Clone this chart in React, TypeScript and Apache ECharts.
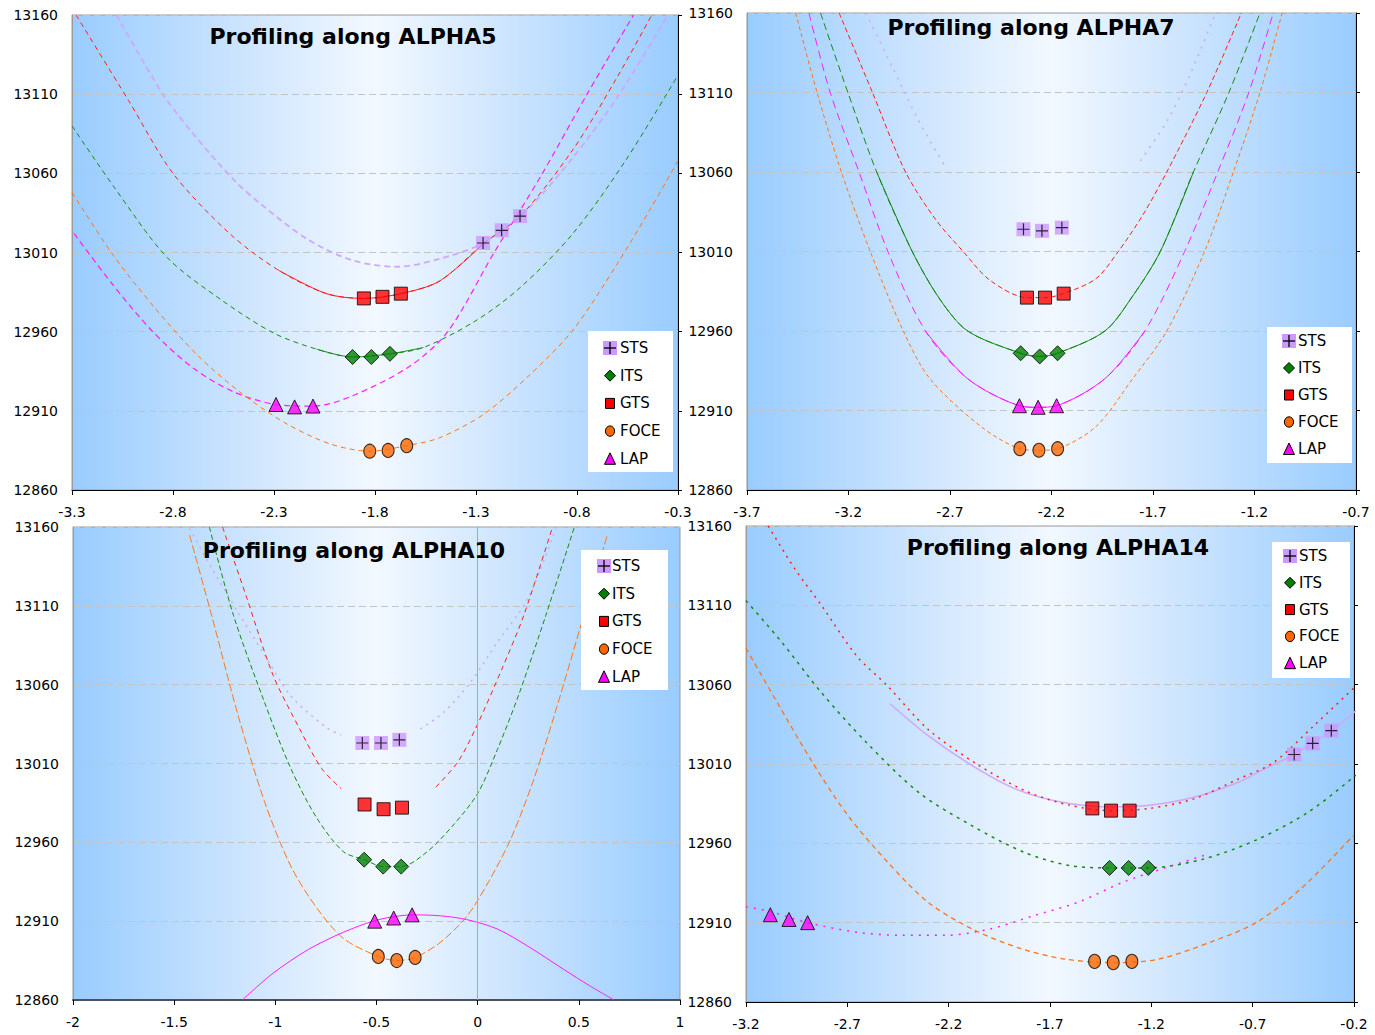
import React, { useEffect, useRef } from "react";
import * as echarts from "echarts";

// ---------- axes ----------
const Y_MIN = 12860;
const Y_MAX = 13160;
const Y_STEP = 50;
const X_STEP = 0.5;
const X_RANGE_A5 = [-3.3, -0.3];
const X_RANGE_A7 = [-3.7, -0.7];
const X_RANGE_A10 = [-2, 1];
const X_RANGE_A14 = [-3.2, -0.2];

const METHODS = ["STS", "ITS", "GTS", "FOCE", "LAP"];
const TITLES = [
  "Profiling along ALPHA5",
  "Profiling along ALPHA7",
  "Profiling along ALPHA10",
  "Profiling along ALPHA14",
];

// ---------- ALPHA5 ----------
const a5StsPts = [[-1.265, 13016], [-1.173, 13024], [-1.082, 13033]];
const a5ItsPts = [[-1.911, 12944], [-1.818, 12944], [-1.726, 12946]];
const a5GtsPts = [[-1.855, 12981], [-1.763, 12982], [-1.672, 12984]];
const a5FocePts = [[-1.826, 12884.5], [-1.735, 12885], [-1.643, 12888]];
const a5LapPts = [[-2.29, 12914], [-2.198, 12912.5], [-2.107, 12913]];

const a5StsCurve = [[-3.08, 13160], [-2.85, 13110], [-2.7, 13085], [-2.5, 13056], [-2.35, 13039], [-2.13, 13018], [-1.91, 13005], [-1.69, 13001], [-1.48, 13006], [-1.265, 13016], [-1.04, 13038], [-0.82, 13070], [-0.6, 13108], [-0.35, 13160]];
const a5GtsCurve = [[-3.28, 13160], [-3.02, 13106], [-2.8, 13060], [-2.52, 13022], [-2.28, 12999], [-2.04, 12984], [-1.855, 12981], [-1.672, 12984], [-1.48, 12992], [-1.26, 13016], [-1.08, 13033], [-0.82, 13075], [-0.6, 13121], [-0.43, 13160]];
const a5ItsCurve = [[-3.3, 13090], [-3.09, 13051], [-2.83, 13007], [-2.56, 12980], [-2.3, 12959], [-2.09, 12949], [-1.911, 12944], [-1.726, 12946], [-1.56, 12950], [-1.3, 12967], [-1.08, 12988], [-0.82, 13022], [-0.56, 13068], [-0.3, 13122]];
const a5LapCurve = [[-3.29, 13022], [-3.1, 12990], [-2.9, 12960], [-2.7, 12937], [-2.5, 12922], [-2.29, 12914], [-2.107, 12913], [-1.92, 12919], [-1.63, 12938], [-1.44, 12960], [-1.21, 13010], [-0.98, 13058], [-0.75, 13110], [-0.52, 13160]];
const a5FoceCurve = [[-3.3, 13048], [-3.1, 13009], [-2.89, 12975], [-2.67, 12944], [-2.46, 12921], [-2.24, 12902], [-2.02, 12889], [-1.826, 12884.5], [-1.643, 12888], [-1.48, 12893], [-1.26, 12908], [-1.04, 12932], [-0.82, 12961], [-0.6, 13003], [-0.43, 13039], [-0.3, 13068]];

// ---------- ALPHA7 ----------
const a7StsPts = [[-2.338, 13024], [-2.247, 13023], [-2.149, 13025]];
const a7ItsPts = [[-2.352, 12946], [-2.258, 12944], [-2.17, 12946]];
const a7GtsPts = [[-2.321, 12981], [-2.232, 12981], [-2.14, 12983.5]];
const a7FocePts = [[-2.356, 12886], [-2.262, 12885], [-2.17, 12886]];
const a7LapPts = [[-2.358, 12913], [-2.266, 12912], [-2.175, 12913]];

const a7StsCurveLeft = [[-3.115, 13160], [-2.984, 13126], [-2.853, 13092], [-2.722, 13063]];
const a7StsCurveRight = [[-1.762, 13067], [-1.631, 13092], [-1.522, 13120], [-1.392, 13160]];
const a7GtsCurve = [[-3.246, 13160], [-3.082, 13110], [-2.919, 13060], [-2.77, 13030], [-2.635, 13010], [-2.504, 12992], [-2.321, 12981], [-2.232, 12981], [-2.14, 12983.5], [-1.98, 12993], [-1.871, 13010], [-1.75, 13033], [-1.632, 13060], [-1.435, 13110], [-1.265, 13160]];
const a7ItsCurve = [[-3.338, 13160], [-3.203, 13110], [-3.061, 13060], [-2.886, 13010], [-2.75, 12980], [-2.613, 12960], [-2.352, 12946], [-2.258, 12944], [-2.17, 12946], [-1.937, 12960], [-1.8, 12982], [-1.664, 13010], [-1.501, 13060], [-1.326, 13110], [-1.173, 13160]];
const a7LapCurve = [[-3.395, 13160], [-3.29, 13110], [-3.148, 13060], [-3.006, 13010], [-2.821, 12960], [-2.613, 12930], [-2.358, 12913], [-2.266, 12912], [-2.175, 12913], [-1.937, 12930], [-1.74, 12960], [-1.544, 13010], [-1.381, 13060], [-1.228, 13110], [-1.108, 13160]];
const a7FoceCurve = [[-3.46, 13160], [-3.355, 13110], [-3.235, 13060], [-3.093, 13010], [-2.93, 12960], [-2.799, 12930], [-2.548, 12900], [-2.356, 12886], [-2.262, 12885], [-2.17, 12886], [-1.98, 12900], [-1.8, 12930], [-1.632, 12960], [-1.446, 13010], [-1.304, 13060], [-1.173, 13110], [-1.064, 13160]];

// ---------- ALPHA10 ----------
const a10StsPts = [[-0.57, 13023], [-0.478, 13023], [-0.387, 13025]];
const a10ItsPts = [[-0.561, 12949], [-0.467, 12944.6], [-0.378, 12944.6]];
const a10GtsPts = [[-0.559, 12984], [-0.465, 12981], [-0.374, 12982]];
const a10FocePts = [[-0.491, 12887.6], [-0.4, 12885], [-0.309, 12887]];
const a10LapPts = [[-0.509, 12910], [-0.415, 12912], [-0.324, 12914]];

const a10StsCurveLeft = [[-1.424, 13159], [-1.315, 13134], [-1.185, 13106], [-1.054, 13079], [-0.924, 13053], [-0.75, 13033], [-0.674, 13028]];
const a10StsCurveRight = [[-0.283, 13032], [-0.163, 13043], [-0.033, 13062], [0.098, 13087], [0.25, 13115], [0.385, 13159]];
const a10GtsCurveLeft = [[-1.261, 13160], [-1.141, 13115], [-1.011, 13066], [-0.88, 13032], [-0.772, 13007], [-0.674, 12994]];
const a10GtsCurveRight = [[-0.207, 12995], [-0.098, 13011], [-0.011, 13032], [0.12, 13070], [0.228, 13104], [0.37, 13160]];
const a10ItsCurve = [[-1.326, 13160], [-1.207, 13104], [-1.054, 13049], [-0.924, 13007], [-0.793, 12975], [-0.663, 12954], [-0.561, 12949], [-0.467, 12944.6], [-0.378, 12944.6], [-0.25, 12954], [-0.12, 12971], [0, 12991], [0.098, 13019], [0.207, 13055], [0.337, 13104], [0.478, 13160]];
const a10FoceCurve = [[-1.424, 13155], [-1.315, 13104], [-1.185, 13041], [-1.054, 12986], [-0.924, 12945], [-0.793, 12918], [-0.663, 12899], [-0.491, 12887.6], [-0.4, 12885], [-0.309, 12887], [-0.185, 12896.5], [-0.054, 12913], [0.054, 12935], [0.163, 12962], [0.272, 12998], [0.38, 13041], [0.511, 13098], [0.641, 13155]];
const a10LapCurve = [[-1.163, 12860], [-1.011, 12877], [-0.837, 12892], [-0.663, 12903], [-0.489, 12911], [-0.315, 12914], [-0.185, 12913.4], [-0.054, 12911], [0.098, 12905], [0.25, 12894], [0.424, 12879.5], [0.554, 12869], [0.674, 12860]];

// ---------- ALPHA14 ----------
const a14StsPts = [[-0.495, 13016], [-0.404, 13023], [-0.312, 13031]];
const a14ItsPts = [[-1.406, 12944.5], [-1.312, 12944.5], [-1.215, 12944.5]];
const a14GtsPts = [[-1.491, 12982], [-1.399, 12980.6], [-1.307, 12980.6]];
const a14FocePts = [[-1.48, 12885.6], [-1.388, 12884.8], [-1.296, 12885.6]];
const a14LapPts = [[-3.08, 12915], [-2.988, 12912], [-2.896, 12910]];

const a14StsCurve = [[-2.489, 13048], [-2.303, 13028], [-2.084, 13009], [-1.865, 12994], [-1.646, 12986], [-1.428, 12983], [-1.209, 12984], [-0.99, 12989], [-0.771, 12998.5], [-0.64, 13007], [-0.495, 13016], [-0.312, 13031], [-0.191, 13043.5]];
const a14GtsCurve = [[-3.09, 13160], [-2.959, 13133], [-2.828, 13110], [-2.653, 13078], [-2.5, 13059], [-2.303, 13032], [-2.062, 13010], [-1.821, 12993], [-1.603, 12984], [-1.399, 12980.6], [-1.209, 12982], [-0.99, 12988], [-0.771, 13000.5], [-0.596, 13011], [-0.399, 13034], [-0.2, 13058]];
const a14ItsCurve = [[-3.2, 13113], [-3.025, 13087], [-2.828, 13055], [-2.609, 13024], [-2.347, 12992], [-2.084, 12971], [-1.821, 12954], [-1.603, 12946], [-1.406, 12944.5], [-1.215, 12944.5], [-0.946, 12950], [-0.684, 12962], [-0.421, 12980], [-0.191, 13003]];
const a14FoceCurve = [[-3.2, 13083], [-3.047, 13049], [-2.872, 13011], [-2.697, 12977.5], [-2.5, 12948], [-2.303, 12923], [-2.084, 12906], [-1.843, 12893.6], [-1.624, 12887], [-1.388, 12884.8], [-1.165, 12887], [-0.902, 12898], [-0.684, 12910], [-0.465, 12931], [-0.202, 12965]];
const a14LapCurve = [[-3.2, 12920], [-3.08, 12917], [-2.896, 12910], [-2.653, 12904], [-2.434, 12902], [-2.215, 12902], [-1.997, 12906], [-1.778, 12914.5], [-1.559, 12923], [-1.34, 12935.5], [-1.121, 12945], [-0.924, 12953]];

// ---------- styles ----------
const FONT = '"DejaVu Sans", Verdana, sans-serif';
const COLOR: Record<string, string> = { STS: "#cc99ff", ITS: "#008000", GTS: "#ff0000", FOCE: "#ff6600", LAP: "#ff00ff" };
const CURVE_COLOR: Record<string, string> = { STS: "#cfa7fb", ITS: "#138a13", GTS: "#ff1a1a", FOCE: "#ff7319", LAP: "#ff1aff" };
const SYMBOL: Record<string, string> = { STS: "rect", ITS: "diamond", GTS: "rect", FOCE: "circle", LAP: "triangle" };
const SYMBOL_SIZE: Record<string, any> = { STS: 14, ITS: 15, GTS: 13, FOCE: [12, 14], LAP: [14, 14] };
const PLUS = "path://M5.4,0H6.6V5.4H12V6.6H6.6V12H5.4V6.6H0V5.4H5.4Z";

const seg = (d: number[][], lo: number, hi: number) => d.filter((p) => p[0] >= lo && p[0] <= hi);

const GRIDS = [
  { left: 72, top: 15, width: 606, height: 475 },
  { left: 747, top: 13, width: 609, height: 477 },
  { left: 73, top: 527, width: 607, height: 473 },
  { left: 746, top: 526, width: 608, height: 476 },
];

const PANELS = [
  {
    xr: X_RANGE_A5, titleX: 353, titleY: 36, rightAxis: true,
    pts: { STS: a5StsPts, ITS: a5ItsPts, GTS: a5GtsPts, FOCE: a5FocePts, LAP: a5LapPts },
    curves: [
      { m: "STS", d: a5StsCurve, dash: [6, 4], w: 1.8 },
      { m: "GTS", d: a5GtsCurve, dash: [5, 4], w: 1 },
      { m: "GTS", d: seg(a5GtsCurve, -2.3, -1.25), dash: "solid", w: 1 },
      { m: "ITS", d: a5ItsCurve, dash: [5, 4], w: 1 },
      { m: "ITS", d: seg(a5ItsCurve, -2.1, -1.55), dash: "solid", w: 1 },
      { m: "LAP", d: a5LapCurve, dash: [6, 4], w: 1.2 },
      { m: "FOCE", d: a5FoceCurve, dash: [5, 4], w: 1 },
    ],
    legend: { x: 588, y: 331, w: 85, h: 141, r0: 17, step: 27.7, ix: 22, tx: 32 },
  },
  {
    xr: X_RANGE_A7, titleX: 1031, titleY: 27, rightAxis: true,
    pts: { STS: a7StsPts, ITS: a7ItsPts, GTS: a7GtsPts, FOCE: a7FocePts, LAP: a7LapPts },
    curves: [
      { m: "STS", d: a7StsCurveLeft, dash: [2, 6], w: 1.5 },
      { m: "STS", d: a7StsCurveRight, dash: [2, 6], w: 1.5 },
      { m: "GTS", d: a7GtsCurve, dash: [5, 3], w: 1 },
      { m: "ITS", d: a7ItsCurve, dash: [7, 4], w: 1 },
      { m: "ITS", d: seg(a7ItsCurve, -3.07, -1.5), dash: "solid", w: 1 },
      { m: "LAP", d: a7LapCurve, dash: [8, 5], w: 1 },
      { m: "LAP", d: seg(a7LapCurve, -2.85, -1.7), dash: "solid", w: 1 },
      { m: "FOCE", d: a7FoceCurve, dash: [4, 3], w: 1 },
    ],
    legend: { x: 1267, y: 327, w: 85, h: 136, r0: 14, step: 27, ix: 22, tx: 31 },
  },
  {
    xr: X_RANGE_A10, titleX: 354, titleY: 550, rightAxis: false,
    pts: { STS: a10StsPts, ITS: a10ItsPts, GTS: a10GtsPts, FOCE: a10FocePts, LAP: a10LapPts },
    curves: [
      { m: "STS", d: a10StsCurveLeft, dash: [2, 5], w: 1.5 },
      { m: "STS", d: a10StsCurveRight, dash: [2, 5], w: 1.5 },
      { m: "GTS", d: a10GtsCurveLeft, dash: [5, 4], w: 1 },
      { m: "GTS", d: a10GtsCurveRight, dash: [5, 4], w: 1 },
      { m: "ITS", d: a10ItsCurve, dash: [5, 3], w: 1 },
      { m: "FOCE", d: a10FoceCurve, dash: [8, 3], w: 1 },
      { m: "LAP", d: a10LapCurve, dash: "solid", w: 1 },
    ],
    zeroLine: true,
    legend: { x: 581, y: 550, w: 87, h: 140, r0: 16, step: 27.7, ix: 23, tx: 31 },
  },
  {
    xr: X_RANGE_A14, titleX: 1058, titleY: 547, rightAxis: true,
    pts: { STS: a14StsPts, ITS: a14ItsPts, GTS: a14GtsPts, FOCE: a14FocePts, LAP: a14LapPts },
    curves: [
      { m: "STS", d: a14StsCurve, dash: "solid", w: 1.5 },
      { m: "GTS", d: a14GtsCurve, dash: [2, 5], w: 1.5 },
      { m: "ITS", d: a14ItsCurve, dash: [3, 5], w: 1.5 },
      { m: "FOCE", d: a14FoceCurve, dash: [5, 4], w: 1.3 },
      { m: "LAP", d: a14LapCurve, dash: [2, 6], w: 1.5 },
    ],
    legend: { x: 1272, y: 542, w: 78, h: 136, r0: 14, step: 26.8, ix: 18, tx: 27 },
  },
];

function legendIcon(m: string, cx: number, cy: number): any[] {
  const stroke = { stroke: "#000", lineWidth: 1 };
  if (m === "STS")
    return [
      { type: "rect", z: 101, shape: { x: cx - 7, y: cy - 7, width: 14, height: 14 }, style: { fill: COLOR.STS } },
      { type: "line", z: 102, shape: { x1: cx - 6, y1: cy, x2: cx + 6, y2: cy }, style: { stroke: "#000", lineWidth: 1.3 } },
      { type: "line", z: 102, shape: { x1: cx, y1: cy - 6, x2: cx, y2: cy + 6 }, style: { stroke: "#000", lineWidth: 1.3 } },
    ];
  if (m === "ITS")
    return [{ type: "polygon", z: 101, shape: { points: [[cx, cy - 5.5], [cx + 5.5, cy], [cx, cy + 5.5], [cx - 5.5, cy]] }, style: { fill: COLOR.ITS, ...stroke } }];
  if (m === "GTS")
    return [{ type: "rect", z: 101, shape: { x: cx - 4.5, y: cy - 5, width: 9, height: 10 }, style: { fill: COLOR.GTS, ...stroke } }];
  if (m === "FOCE")
    return [{ type: "ellipse", z: 101, shape: { cx, cy, rx: 4.6, ry: 5.2 }, style: { fill: COLOR.FOCE, ...stroke } }];
  return [{ type: "polygon", z: 101, shape: { points: [[cx, cy - 6], [cx + 5.5, cy + 5.5], [cx - 5.5, cy + 5.5]] }, style: { fill: COLOR.LAP, ...stroke } }];
}

function buildOption() {
  const bg = {
    type: "linear", x: 0, y: 0, x2: 1, y2: 0,
    colorStops: [
      { offset: 0, color: "#99ccff" },
      { offset: 0.3, color: "#d0e6fe" },
      { offset: 0.5, color: "#f2f8ff" },
      { offset: 0.7, color: "#d0e6fe" },
      { offset: 1, color: "#99ccff" },
    ],
  };
  const grid = GRIDS.map((g) => ({ ...g, show: true, backgroundColor: bg, borderColor: "#9a9a9a", borderWidth: 1 }));
  const xAxis = PANELS.map((p, i) => ({
    type: "value", gridIndex: i, min: p.xr[0], max: p.xr[1], interval: X_STEP,
    axisLine: { show: true, onZero: false, lineStyle: { color: i === 2 ? "#4a5060" : "#000", width: i === 2 ? 2 : 1 } },
    axisTick: { show: true, length: 5, lineStyle: { color: "#000" } },
    splitLine: { show: false },
    axisLabel: {
      color: "#000", fontSize: 14, fontFamily: FONT, margin: 15, showMinLabel: true, showMaxLabel: true,
      formatter: (v: number) => String(Math.round(v * 10) / 10 || 0),
    },
  }));
  const yAxis: any[] = PANELS.map((p, i) => ({
    type: "value", gridIndex: i, min: Y_MIN, max: Y_MAX, interval: Y_STEP,
    axisLine: { show: true, onZero: false, lineStyle: { color: "#9a9a9a", width: 1 } },
    axisTick: { show: false },
    splitLine: { show: true, lineStyle: { color: "#c4c4c4", type: [7, 4], width: 1 } },
    axisLabel: { color: "#000", fontSize: 14, fontFamily: FONT, margin: 14, formatter: (v: number) => String(v) },
  }));
  PANELS.forEach((p, i) => {
    if (!p.rightAxis) return;
    yAxis.push({
      type: "value", gridIndex: i, position: "right", min: Y_MIN, max: Y_MAX, interval: Y_STEP,
      axisLine: { show: true, onZero: false, lineStyle: { color: "#000", width: 1 } },
      axisTick: { show: true, inside: false, length: 4, lineStyle: { color: "#000" } },
      splitLine: { show: false },
      axisLabel: { show: false },
    });
  });

  const series: any[] = [];
  const graphic: any[] = [];
  PANELS.forEach((p: any, i) => {
    p.curves.forEach((c: any, k: number) => {
      const s: any = {
        type: "line", xAxisIndex: i, yAxisIndex: i, data: c.d, smooth: 0.3, symbol: "none", silent: true, z: 2,
        lineStyle: { color: CURVE_COLOR[c.m], width: c.w, type: c.dash },
      };
      if (p.zeroLine && k === 0) {
        s.markLine = {
          silent: true, symbol: ["none", "none"], label: { show: false },
          lineStyle: { color: "#a9a9a9", type: "solid", width: 1 }, data: [{ xAxis: 0 }],
        };
      }
      series.push(s);
    });
    METHODS.forEach((m) => {
      series.push({
        type: "scatter", name: m, xAxisIndex: i, yAxisIndex: i, data: p.pts[m],
        symbol: SYMBOL[m], symbolSize: SYMBOL_SIZE[m], z: 5, silent: true,
        itemStyle: { color: COLOR[m], borderColor: "#000", borderWidth: m === "STS" ? 0 : 1 },
      });
    });
    series.push({
      type: "scatter", xAxisIndex: i, yAxisIndex: i, data: p.pts.STS, symbol: PLUS, symbolSize: 12, z: 6, silent: true,
      itemStyle: { color: "#000" },
    });

    graphic.push({
      type: "text", z: 100, x: p.titleX, y: p.titleY,
      style: { text: TITLES[i], font: `bold 22px ${FONT}`, fill: "#000", textAlign: "center", textVerticalAlign: "middle", align: "center", verticalAlign: "middle" },
    });
    const L = p.legend;
    graphic.push({ type: "rect", z: 100, shape: { x: L.x, y: L.y, width: L.w, height: L.h }, style: { fill: "#ffffff" } });
    METHODS.forEach((m, j) => {
      const cy = L.y + L.r0 + j * L.step;
      legendIcon(m, L.x + L.ix, cy).forEach((e) => graphic.push(e));
      graphic.push({
        type: "text", z: 101, x: L.x + L.tx, y: cy,
        style: { text: m, font: `15px ${FONT}`, fill: "#000", textAlign: "left", textVerticalAlign: "middle", align: "left", verticalAlign: "middle" },
      });
    });
  });

  return { animation: false, backgroundColor: "#ffffff", grid, xAxis, yAxis, series, graphic: { elements: graphic } };
}

export default function App() {
  const ref = useRef<HTMLDivElement>(null);
  useEffect(() => {
    if (!ref.current) return;
    const chart = echarts.init(ref.current, null, { renderer: "svg" });
    chart.setOption(buildOption() as any);
    return () => chart.dispose();
  }, []);
  return <div ref={ref} style={{ position: "fixed", left: 0, top: 0, width: 1375, height: 1035, background: "#fff" }} />;
}
